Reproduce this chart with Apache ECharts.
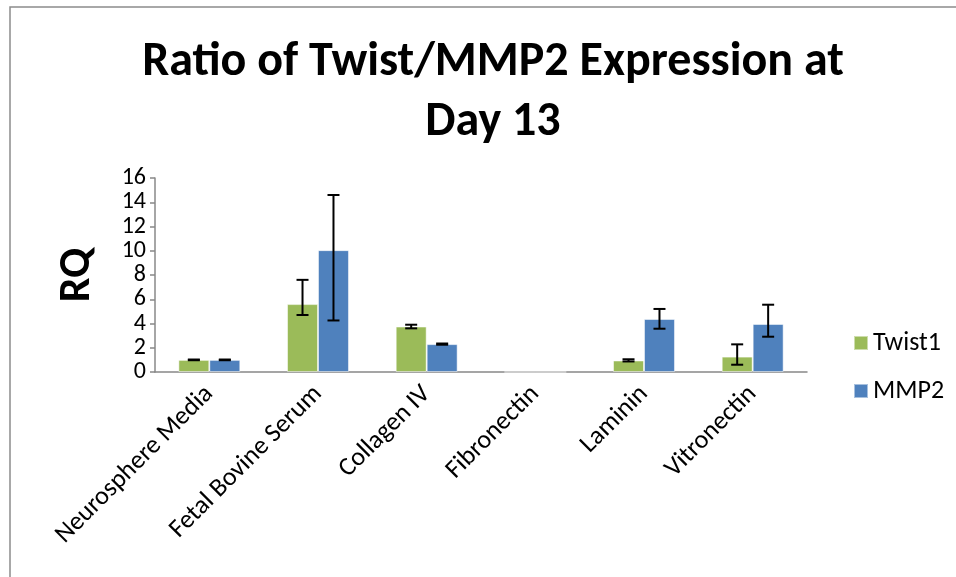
<!DOCTYPE html>
<html>
<head>
<meta charset="utf-8">
<script src="https://cdn.jsdelivr.net/npm/echarts@6/dist/echarts.min.js"></script>
<style>
  html, body { margin: 0; padding: 0; background: #fff; }
  #main { width: 956px; height: 577px; }
</style>
</head>
<body>
<div id="main"></div>
<script>
// categories and values
const categories = ['Neurosphere Media', 'Fetal Bovine Serum', 'Collagen IV', 'Fibronectin', 'Laminin', 'Vitronectin']
const twistValues = [1.0, 5.6, 3.75, 0, 0.95, 1.27]
const twistLow = [0.97, 4.7, 3.6, null, 0.87, 0.6]
const twistHigh = [1.03, 7.6, 3.9, null, 1.05, 2.28]
const mmpValues = [1.0, 10.05, 2.3, 0, 4.37, 3.96]
const mmpLow = [0.97, 4.25, 2.25, null, 3.57, 2.91]
const mmpHigh = [1.03, 14.6, 2.35, null, 5.2, 5.55]
const yTicks = [0, 2, 4, 6, 8, 10, 12, 14, 16]

const FONT = 'Carlito, "Open Sans", sans-serif'
const catGap = 0.43

// 误差线
function errorBar(low, high, side) {
  return function (params, api) {
    const i = api.value(0)
    if (low[i] == null) return
    const band = api.size([1, 0])[0]
    const bw = band * (1 - catGap) / 2
    const top = api.coord([i, high[i]])
    const bot = api.coord([i, low[i]])
    const x = top[0] + side * bw / 2
    const cap = 6
    const style = { stroke: '#000', lineWidth: 2 }
    return {
      type: 'group',
      children: [
        { type: 'line', shape: { x1: x, y1: top[1], x2: x, y2: bot[1] }, style },
        { type: 'line', shape: { x1: x - cap, y1: top[1], x2: x + cap, y2: top[1] }, style },
        { type: 'line', shape: { x1: x - cap, y1: bot[1], x2: x + cap, y2: bot[1] }, style }
      ]
    }
  }
}

const chart = echarts.init(document.getElementById('main'))
const option = {
  animation: false,
  color: ['#9BBB59', '#4F81BD'],
  title: {
    text: 'Ratio of Twist/MMP2 Expression at\nDay 13',
    left: 488,
    textAlign: 'center',
    top: 28,
    textStyle: { fontFamily: FONT, fontSize: 48, fontWeight: 'bold', color: '#000', lineHeight: 60 }
  },
  graphic: [{
    type: 'rect',
    shape: { x: 10, y: 7, width: 1000, height: 1000 },
    style: { fill: 'none', stroke: '#8c8c8c', lineWidth: 1.5 },
    silent: true
  }],
  legend: {
    orient: 'vertical',
    left: 848,
    top: 325,
    itemWidth: 14,
    itemHeight: 14,
    itemGap: 22,
    icon: 'rect',
    data: ['Twist1', 'MMP2'],
    textStyle: { fontFamily: FONT, fontSize: 26, color: '#000' }
  },
  grid: { left: 155, right: 149, top: 178, bottom: 205 },
  xAxis: {
    type: 'category',
    data: categories,
    axisLine: { lineStyle: { color: '#888', width: 1.5 } },
    axisTick: { length: 6, lineStyle: { color: '#888', width: 1.5 } },
    axisLabel: { rotate: 45, fontFamily: FONT, fontSize: 26, color: '#000', margin: 18, interval: 0 }
  },
  yAxis: {
    type: 'value',
    min: yTicks[0],
    max: yTicks[yTicks.length - 1],
    interval: 2,
    name: 'RQ',
    nameLocation: 'middle',
    nameGap: 55,
    nameRotate: 90,
    nameTextStyle: { fontFamily: FONT, fontSize: 44, fontWeight: 'bold', color: '#000' },
    axisLine: { show: true, lineStyle: { color: '#888', width: 1.5 } },
    axisTick: { show: true, length: 5, lineStyle: { color: '#888', width: 1.5 } },
    splitLine: { show: false },
    axisLabel: { fontFamily: FONT, fontSize: 24, color: '#000', margin: 9 }
  },
  series: [
    {
      name: 'Twist1',
      type: 'bar',
      data: twistValues,
      barGap: 0,
      barCategoryGap: (catGap * 100) + '%',
      itemStyle: { borderColor: 'rgba(255,255,255,0.5)', borderWidth: 1 }
    },
    {
      name: 'MMP2',
      type: 'bar',
      data: mmpValues,
      barGap: 0,
      barCategoryGap: (catGap * 100) + '%',
      itemStyle: { borderColor: 'rgba(255,255,255,0.5)', borderWidth: 1 }
    },
    {
      type: 'custom',
      name: 'twistErr',
      renderItem: errorBar(twistLow, twistHigh, -1),
      data: categories.map((c, i) => [i, twistHigh[i]]),
      z: 10
    },
    {
      type: 'custom',
      name: 'mmpErr',
      renderItem: errorBar(mmpLow, mmpHigh, 1),
      data: categories.map((c, i) => [i, mmpHigh[i]]),
      z: 10
    }
  ]
}
chart.setOption(option)
</script>
</body>
</html>
